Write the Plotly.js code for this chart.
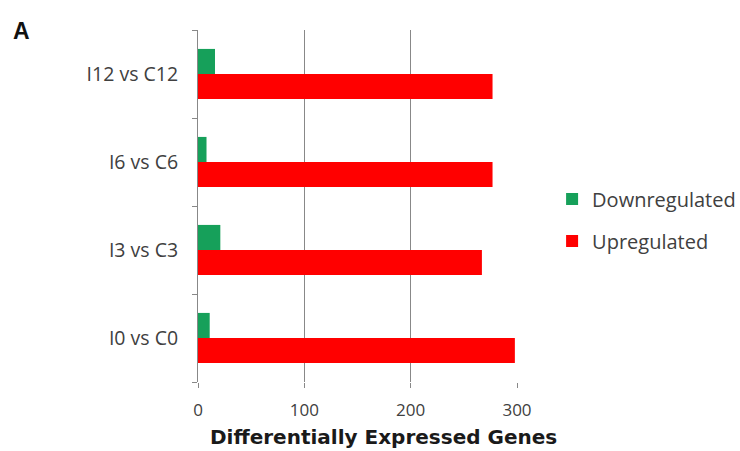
<!DOCTYPE html>
<html>
<head>
<meta charset="utf-8">
<script src="https://cdn.plot.ly/plotly-3.0.1.min.js"></script>
<style>html,body{margin:0;padding:0;background:#fff}#chart{width:740px;height:451px}</style>
</head>
<body>
<div id="chart"></div>
<script>
const categories = ["I0 vs C0", "I3 vs C3", "I6 vs C6", "I12 vs C12"];
const downregulated = [11, 21, 8, 16];
const upregulated = [298, 267, 277, 277];
const xTicks = [0, 100, 200, 300];
const xTitle = "Differentially Expressed Genes";
const panelLabel = "A";

const traces = [
  {type: "bar", orientation: "h", name: "Upregulated", y: categories, x: upregulated,
   legendgroup: "up", legendrank: 2, marker: {color: "#ff0000"}},
  {type: "bar", orientation: "h", name: "Downregulated", y: categories, x: downregulated,
   legendgroup: "down", legendrank: 1, marker: {color: "#16a05a"}}
];

const layout = {
  width: 740, height: 451,
  margin: {l: 198, r: 223, t: 30, b: 69, autoexpand: false},
  paper_bgcolor: "#fff", plot_bgcolor: "#fff",
  barmode: "group", bargap: 0.43, bargroupgap: 0,
  font: {family: "Open Sans, sans-serif", color: "#404040", size: 18},
  xaxis: {
    range: [0, 300], tickvals: xTicks, ticktext: xTicks.map(String),
    showgrid: true, gridcolor: "#888", gridwidth: 1,
    zeroline: false, showline: false,
    ticks: "outside", ticklen: 5, tickcolor: "#888",
    tickfont: {size: 17, color: "#404040"}, ticklabelstandoff: 8
  },
  yaxis: {
    type: "category", categoryorder: "array", categoryarray: categories,
    showline: true, linecolor: "#888", linewidth: 1,
    ticks: "outside", ticklen: 5, tickcolor: "#888", tickson: "boundaries",
    showgrid: false, zeroline: false,
    tickfont: {size: 19.5, color: "#404040"}, ticklabelstandoff: 15
  },
  showlegend: true,
  legend: {x: 1.11, xanchor: "left", y: 0.46, yanchor: "middle", traceorder: "grouped",
           font: {size: 20, color: "#404040"}, itemwidth: 30, tracegroupgap: 13, bgcolor: "rgba(0,0,0,0)"},
  annotations: [
    {text: panelLabel, xref: "paper", yref: "paper", x: -0.585, y: 0.997, xanchor: "left", yanchor: "middle",
     showarrow: false, font: {family: "Arial, Liberation Sans, sans-serif", size: 23, color: "#111", weight: "bold"}},
    {text: xTitle, xref: "paper", yref: "paper", x: 0.58, y: -0.156, xanchor: "center", yanchor: "middle",
     showarrow: false, font: {family: "DejaVu Sans, sans-serif", size: 20, color: "#1a1a1a", weight: "bold"}}
  ]
};

Plotly.newPlot("chart", traces, layout, {displayModeBar: false});
</script>
</body>
</html>
